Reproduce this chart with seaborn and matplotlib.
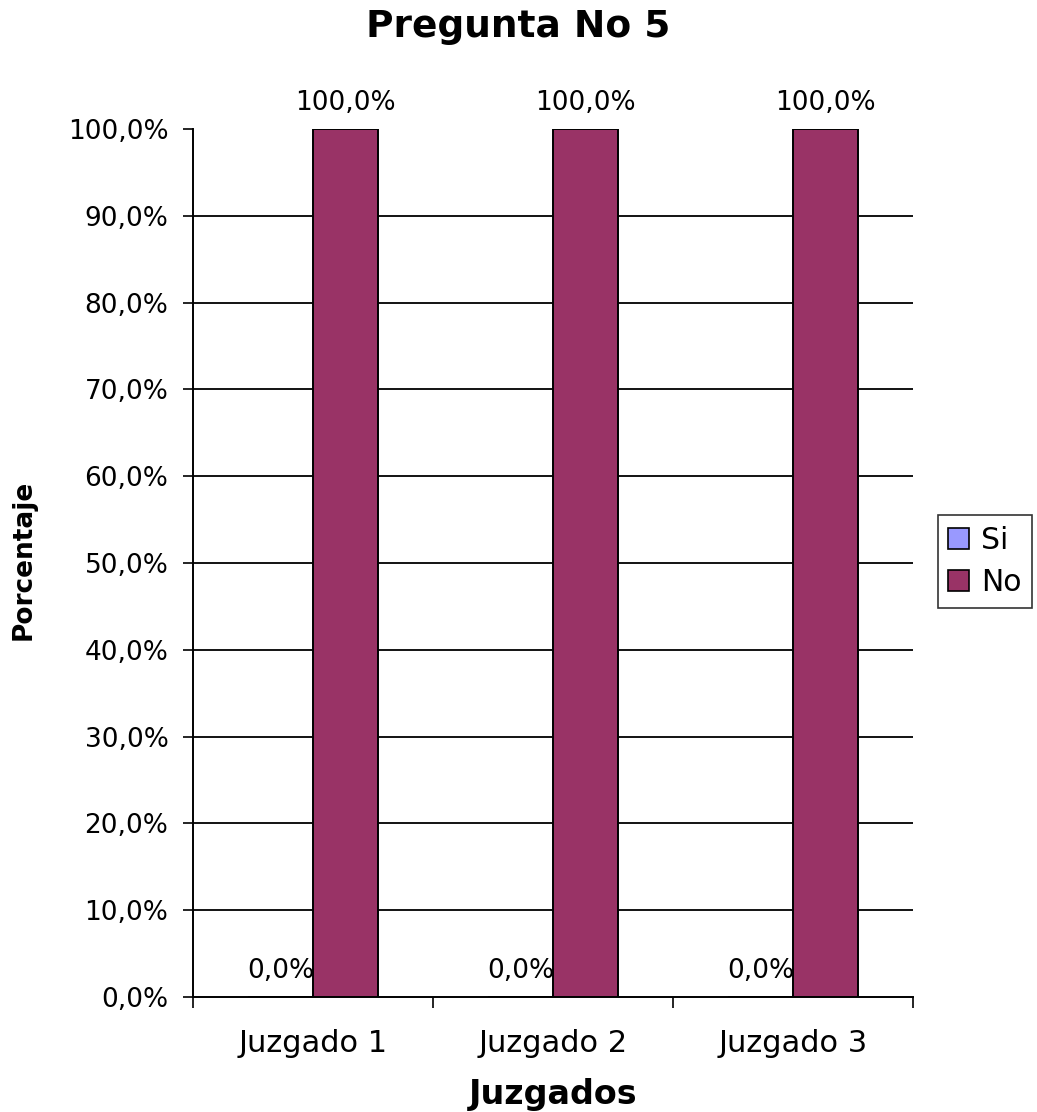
import matplotlib
matplotlib.use("Agg")
import matplotlib.pyplot as plt
import seaborn as sns
import pandas as pd
from matplotlib.ticker import FixedLocator

categories = ["Juzgado 1", "Juzgado 2", "Juzgado 3"]
series_names = ["Si", "No"]
si_values = [0.0, 0.0, 0.0]
no_values = [100.0, 100.0, 100.0]
y_ticks = [0, 10, 20, 30, 40, 50, 60, 70, 80, 90, 100]
colors = ["#9999FF", "#993366"]


def pct(v):
    return f"{v:.1f}%".replace(".", ",")


sns.set_theme(style="white")
plt.rcParams["font.family"] = ["DejaVu Sans"]
for key in ["text.color", "axes.labelcolor", "xtick.color", "ytick.color"]:
    plt.rcParams[key] = "black"

df = pd.DataFrame({
    "Juzgado": categories * 2,
    "Respuesta": [series_names[0]] * 3 + [series_names[1]] * 3,
    "Porcentaje": si_values + no_values,
})

W, H = 1037, 1112
fig = plt.figure(figsize=(W / 100, H / 100), dpi=100)
ax = fig.add_axes([193 / W, 1 - 997 / H, (913 - 193) / W, (997 - 129) / H])

sns.barplot(data=df, x="Juzgado", y="Porcentaje", hue="Respuesta",
            hue_order=series_names, order=categories, palette=colors,
            width=0.54, edgecolor="black", linewidth=1.4, saturation=1,
            errorbar=None, ax=ax, zorder=3)

ax.set_ylim(0, 100)
ax.set_xlim(-0.5, 2.5)
ax.set_yticks(y_ticks)
ax.set_yticklabels([pct(v) for v in y_ticks], fontsize=19)
ax.tick_params(axis="y", direction="out", length=7.2, width=1.2, pad=10.5, left=True)

# category ticks sit on the boundaries between groups
ax.set_xticks(range(len(categories)))
ax.set_xticklabels(categories, fontsize=22)
ax.xaxis.set_minor_locator(FixedLocator([-0.5, 0.5, 1.5, 2.5]))
ax.tick_params(axis="x", which="major", length=0, pad=23)
ax.tick_params(axis="x", which="minor", direction="out", length=8, width=1.2, bottom=True)

for yv in y_ticks[1:-1]:
    ax.axhline(yv, color="black", linewidth=1.3, zorder=1)

for side in ["top", "right"]:
    ax.spines[side].set_visible(False)
for side in ["left", "bottom"]:
    ax.spines[side].set_color("black")
    ax.spines[side].set_linewidth(1.4)

# value labels above each bar
for container in ax.containers:
    ax.bar_label(container, labels=[pct(b.get_height()) for b in container],
                 fontsize=19, padding=9.5)

ax.set_ylabel("")
ax.set_xlabel("")
fig.text(24 / W, 1 - 560 / H, "Porcentaje", rotation=90, ha="center", va="center",
         fontsize=19, fontweight="bold")
fig.text(553 / W, 1 - 1104 / H, "Juzgados", ha="center", va="baseline",
         fontsize=24, fontweight="bold")
fig.text(0.5, 1 - 37 / H, "Pregunta No 5", ha="center", va="baseline",
         fontsize=27, fontweight="bold")

handles, labels = ax.get_legend_handles_labels()
leg = ax.legend(handles, labels, loc="center left", bbox_to_anchor=(938 / W, 1 - 561.5 / H),
                bbox_transform=fig.transFigure, frameon=True, fontsize=21.5,
                handlelength=0.7, handleheight=0.7, handletextpad=0.4,
                borderpad=0.35, labelspacing=0.45, fancybox=False, borderaxespad=0)
leg.get_frame().set_edgecolor("black")
leg.get_frame().set_linewidth(1.2)
for h in leg.legend_handles:
    h.set_edgecolor("black")
    h.set_linewidth(1.2)

fig.savefig("out.png", dpi=100)
